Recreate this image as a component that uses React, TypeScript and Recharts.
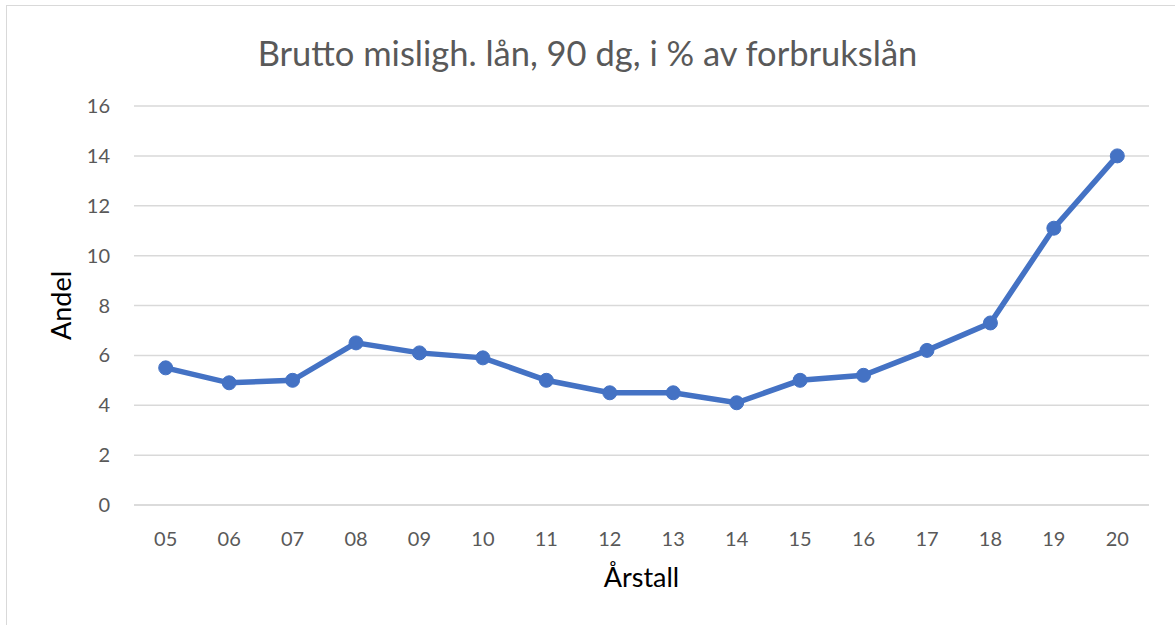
import { LineChart, Line, XAxis, YAxis, CartesianGrid, Label } from "recharts";

const years = ["05", "06", "07", "08", "09", "10", "11", "12", "13", "14", "15", "16", "17", "18", "19", "20"];
const andel = [5.5, 4.9, 5.0, 6.5, 6.1, 5.9, 5.0, 4.5, 4.5, 4.1, 5.0, 5.2, 6.2, 7.3, 11.1, 14.0];
const yTicks = [0, 2, 4, 6, 8, 10, 12, 14, 16];

const data = years.map((year, i) => ({ year, andel: andel[i] }));

const FONT = "Lato, 'Open Sans', sans-serif";

export default function App() {
  return (
    <div style={{ position: "absolute", left: 0, top: 0, width: 1175, height: 625, background: "#fff" }}>
      <div
        style={{
          position: "absolute",
          left: 6,
          top: 5,
          right: -2,
          bottom: -2,
          border: "1.5px solid #d9d9d9",
        }}
      />
      <div
        style={{
          position: "absolute",
          top: 32,
          width: "100%",
          textAlign: "center",
          fontFamily: FONT,
          fontSize: 34.5,
          color: "#595959",
          lineHeight: "42px",
        }}
      >
        Brutto misligh. lån, 90 dg, i % av forbrukslån
      </div>
      <div style={{ position: "absolute", left: 0, top: 0 }}>
        <LineChart
          width={1175}
          height={625}
          data={data}
          margin={{ top: 106, right: 26, bottom: 30, left: 46 }}
        >
          <CartesianGrid vertical={false} stroke="#d9d9d9" strokeWidth={1.5} />
          <XAxis
            dataKey="year"
            padding={{ left: 31.7, right: 31.7 }}
            axisLine={{ stroke: "#d9d9d9", strokeWidth: 1.5 }}
            tickLine={false}
            tick={{ fill: "#595959", fontSize: 20, fontFamily: FONT }}
            tickMargin={21}
            height={90}
          >
            <Label
              value="Årstall"
              position="insideTop"
              offset={63}
              style={{ fill: "#000", fontSize: 27, fontFamily: FONT }}
            />
          </XAxis>
          <YAxis
            domain={[0, 16]}
            ticks={yTicks}
            axisLine={false}
            tickLine={false}
            tick={{ fill: "#595959", fontSize: 20, fontFamily: FONT }}
            tickMargin={18}
            width={88}
          >
            <Label
              value="Andel"
              angle={-90}
              position="insideLeft"
              offset={15}
              style={{ fill: "#000", fontSize: 27, fontFamily: FONT, textAnchor: "middle" }}
            />
          </YAxis>
          <Line
            type="linear"
            dataKey="andel"
            stroke="#4472c4"
            strokeWidth={5.5}
            dot={{ r: 7, fill: "#4472c4", stroke: "#4472c4", strokeWidth: 1 }}
            isAnimationActive={false}
          />
        </LineChart>
      </div>
    </div>
  );
}
